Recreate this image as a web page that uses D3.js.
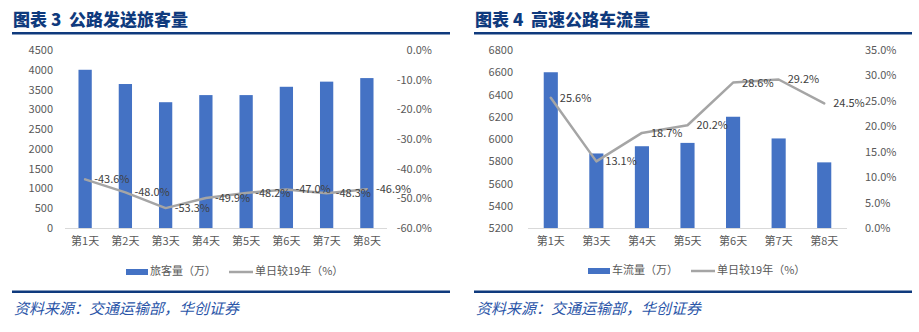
<!DOCTYPE html>
<html><head><meta charset="utf-8">
<script src="https://cdn.jsdelivr.net/npm/d3@7/dist/d3.min.js"></script>
<style>
html,body{margin:0;padding:0;background:#fff;}
svg{display:block;}
text{font-family:"Noto Sans CJK SC","Noto Sans",sans-serif;}
</style></head>
<body><svg id="c" width="919" height="332"></svg>
<script>
// ---- Chart 3 data ----
const titleA = "图表 3  公路发送旅客量";
const catsA = ["第1天","第2天","第3天","第4天","第5天","第6天","第7天","第8天"];
const barsA = [4000, 3640, 3180, 3360, 3360, 3570, 3700, 3790];
const lineA = [-43.6, -48.0, -53.3, -49.9, -48.2, -47.0, -48.3, -46.9];
const leftTicksA = [0,500,1000,1500,2000,2500,3000,3500,4000,4500];
const rightTicksA = [-60,-50,-40,-30,-20,-10,0];
const barNameA = "旅客量（万）";
const lineNameA = "单日较19年（%）";

// ---- Chart 4 data ----
const titleB = "图表 4  高速公路车流量";
const catsB = ["第1天","第3天","第4天","第5天","第6天","第7天","第8天"];
const barsB = [6600, 5870, 5935, 5965, 6200, 6005, 5790];
const lineB = [25.6, 13.1, 18.7, 20.2, 28.6, 29.2, 24.5];
const leftTicksB = [5200,5400,5600,5800,6000,6200,6400,6600,6800];
const rightTicksB = [0,5,10,15,20,25,30,35];
const barNameB = "车流量（万）";
const lineNameB = "单日较19年（%）";

const source = "资料来源：交通运输部，华创证券";

const svg = d3.select("#c");
const BLUE = "#4472C4", GRAY = "#A5A5A5", NAVY = "#0f3a7d";
const pct = d => d3.format(".1f")(d).replace("\u2212", "-") + "%";

function panel(o){
  const g = svg.append("g");
  // title
  g.append("text").attr("x", o.x0 + 1).attr("y", 26)
    .attr("font-size", 17).attr("font-weight", 900).attr("fill", NAVY)
    .attr("xml:space","preserve")
    .text(o.title);
  g.append("rect").attr("x", o.x0).attr("y", 32).attr("width", o.x1 - o.x0).attr("height", 2.5).attr("fill", NAVY);
  g.append("rect").attr("x", o.x0).attr("y", 290.5).attr("width", o.x1 - o.x0).attr("height", 2.5).attr("fill", NAVY);
  g.append("text").attr("x", o.x0 + 2).attr("y", 314)
    .attr("font-size", 15).attr("font-style","italic").attr("fill", "#2a55a8")
    .text(source);

  const x = d3.scaleBand().domain(o.cats).range([o.px0, o.px1]).padding(0);
  const yl = d3.scaleLinear().domain(o.ld).range([228, 50]);
  const yr = d3.scaleLinear().domain(o.rd).range([228, 50]);

  // left axis labels
  const la = d3.axisLeft(yl).tickValues(o.lt).tickSize(0).tickPadding(0).tickFormat(d3.format("d"));
  const gl = g.append("g").attr("transform", `translate(${o.lx},0)`).call(la);
  gl.select(".domain").remove();
  gl.selectAll("text").attr("font-size", 11).attr("fill", "#595959").attr("font-family", '"Noto Sans","Noto Sans CJK SC",sans-serif');

  const ra = d3.axisRight(yr).tickValues(o.rt).tickSize(0).tickPadding(0).tickFormat(pct);
  const gr = g.append("g").attr("transform", `translate(${o.rx},0)`).call(ra);
  gr.select(".domain").remove();
  gr.selectAll("text").attr("font-size", 11).attr("fill", "#595959")
    .attr("text-anchor", o.ranchor).attr("font-family", '"Noto Sans","Noto Sans CJK SC",sans-serif');

  // bars
  const bw = x.bandwidth() * o.bf;
  g.append("g").selectAll("rect").data(o.bars).join("rect")
    .attr("x", (d,i) => x(o.cats[i]) + x.bandwidth()/2 - bw/2)
    .attr("y", d => yl(d))
    .attr("width", bw)
    .attr("height", d => 228 - yl(d))
    .attr("fill", BLUE);

  // x axis line
  g.append("line").attr("x1", o.px0).attr("x2", o.px1).attr("y1", 228.5).attr("y2", 228.5)
    .attr("stroke", "#D9D9D9").attr("stroke-width", 1);

  // x labels
  const xa = d3.axisBottom(x).tickSize(0).tickPadding(0);
  const gx = g.append("g").attr("transform", "translate(0,238)").call(xa);
  gx.select(".domain").remove();
  gx.selectAll("text").attr("font-size", 11).attr("fill", "#595959").attr("dy", "0.6em");

  // line
  const line = d3.line().x((d,i) => x(o.cats[i]) + x.bandwidth()/2).y(d => yr(d));
  g.append("path").datum(o.line).attr("d", line).attr("fill","none")
    .attr("stroke", GRAY).attr("stroke-width", 2.5).attr("stroke-linejoin","round").attr("stroke-linecap","round");

  // labels
  g.append("g").selectAll("text").data(o.line).join("text")
    .attr("x", (d,i) => x(o.cats[i]) + x.bandwidth()/2 + 9)
    .attr("y", d => yr(d) + 1)
    .attr("dominant-baseline","middle")
    .attr("font-size", 11).attr("fill", "#404040")
    .attr("font-family", '"Noto Sans","Noto Sans CJK SC",sans-serif')
    .text(pct);

  // legend
  const ly = o.ly;
  g.append("rect").attr("x", o.lg[0]).attr("y", ly - 3).attr("width", 22).attr("height", 6).attr("fill", BLUE);
  g.append("text").attr("x", o.lg[0] + 24).attr("y", ly).attr("dominant-baseline","middle")
    .attr("font-size", 11).attr("fill", "#595959").text(o.bn);
  g.append("line").attr("x1", o.lg[1]).attr("x2", o.lg[1] + 24).attr("y1", ly).attr("y2", ly)
    .attr("stroke", GRAY).attr("stroke-width", 2.5);
  g.append("text").attr("x", o.lg[1] + 26).attr("y", ly).attr("dominant-baseline","middle")
    .attr("font-size", 11).attr("fill", "#595959").text(o.ln);
}

panel({x0:12, x1:450, title:titleA, cats:catsA, bars:barsA, line:lineA,
  ld:[0,4500], rd:[-60,0], lt:leftTicksA, rt:rightTicksA,
  px0:65, px1:387, lx:53, rx:432, ranchor:"end", bf:0.33,
  ly:272, lg:[126,229], bn:barNameA, ln:lineNameA});

panel({x0:474, x1:912, title:titleB, cats:catsB, bars:barsB, line:lineB,
  ld:[5200,6800], rd:[0,35], lt:leftTicksB, rt:rightTicksB,
  px0:528, px1:847, lx:513, rx:865, ranchor:"start", bf:0.31,
  ly:271, lg:[588,691], bn:barNameB, ln:lineNameB});
</script></body></html>
